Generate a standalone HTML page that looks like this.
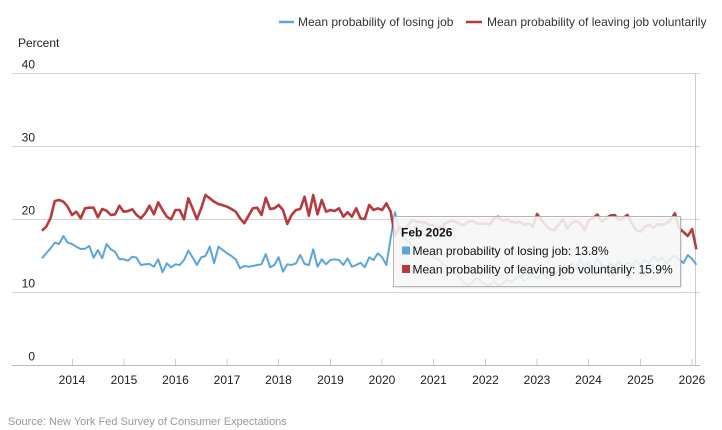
<!DOCTYPE html>
<html><head><meta charset="utf-8"><style>
html,body{margin:0;padding:0;background:#fff;width:722px;height:430px;overflow:hidden}
svg{display:block;font-family:"Liberation Sans",Arial,sans-serif}
</style></head><body>
<svg width="722" height="430" viewBox="0 0 722 430" xmlns="http://www.w3.org/2000/svg">
<rect width="722" height="430" fill="#fff"/>
<!-- legend -->
<line x1="279" y1="22" x2="294" y2="22" stroke="#5aa6dc" stroke-width="2.5"/>
<text x="298" y="26" font-size="12" fill="#333">Mean probability of losing job</text>
<line x1="466" y1="22" x2="482" y2="22" stroke="#b73a3f" stroke-width="2.5"/>
<text x="487" y="26" font-size="12" fill="#333">Mean probability of leaving job voluntarily</text>
<text x="18" y="47" font-size="12" fill="#222">Percent</text>
<!-- grid -->
<g stroke="#d3d3d3" stroke-width="1">
<line x1="12" y1="73.5" x2="700" y2="73.5"/>
<line x1="12" y1="146.5" x2="700" y2="146.5"/>
<line x1="12" y1="219.5" x2="700" y2="219.5"/>
<line x1="12" y1="292.5" x2="700" y2="292.5"/>
</g>
<line x1="12" y1="365.5" x2="700" y2="365.5" stroke="#bbb" stroke-width="1"/>
<g font-size="12" fill="#222" text-anchor="end">
<text x="35" y="68.5">40</text>
<text x="35" y="141.5">30</text>
<text x="35" y="214.5">20</text>
<text x="35" y="287.5">10</text>
<text x="35" y="360.5">0</text>
</g>
<g stroke="#ccc" stroke-width="1">
<line x1="72.5" y1="359" x2="72.5" y2="365"/>
<line x1="124" y1="359" x2="124" y2="365"/>
<line x1="175.5" y1="359" x2="175.5" y2="365"/>
<line x1="227" y1="359" x2="227" y2="365"/>
<line x1="278.5" y1="359" x2="278.5" y2="365"/>
<line x1="330.5" y1="359" x2="330.5" y2="365"/>
<line x1="382" y1="359" x2="382" y2="365"/>
<line x1="433.5" y1="359" x2="433.5" y2="365"/>
<line x1="485.5" y1="359" x2="485.5" y2="365"/>
<line x1="537" y1="359" x2="537" y2="365"/>
<line x1="588.5" y1="359" x2="588.5" y2="365"/>
<line x1="640.5" y1="359" x2="640.5" y2="365"/>
<line x1="692" y1="359" x2="692" y2="365"/>
</g>
<g font-size="12" fill="#222" text-anchor="middle">
<text x="72" y="384">2014</text>
<text x="124" y="384">2015</text>
<text x="175.5" y="384">2016</text>
<text x="227" y="384">2017</text>
<text x="278.5" y="384">2018</text>
<text x="330.5" y="384">2019</text>
<text x="382" y="384">2020</text>
<text x="433.5" y="384">2021</text>
<text x="485.5" y="384">2022</text>
<text x="537" y="384">2023</text>
<text x="588.5" y="384">2024</text>
<text x="640.5" y="384">2025</text>
<text x="692" y="384">2026</text>
</g>
<!-- crosshair -->
<line x1="695.5" y1="73" x2="695.5" y2="365" stroke="#ccc" stroke-width="1"/>
<!-- blue series -->
<polyline fill="none" stroke="#5aa6dc" stroke-width="2" stroke-linejoin="round" points="41.9,258.3 46.2,253.3 50.5,248.3 54.8,242.7 59.1,244 63.4,236 67.7,242.7 72,244 76.3,246.7 80.7,249 85,248.7 89.3,246 93.6,257.7 97.9,250 102.2,258.3 106.5,244 110.8,249.3 115.1,251.7 119.4,259.3 123.7,259.3 128,260.7 132.3,256.7 136.6,257.7 140.9,265 145.2,264.3 149.5,264 153.9,266.7 158.2,259.3 162.5,272.3 166.8,263.3 171.1,267.3 175.4,264.3 179.7,265 184,260 188.3,250.7 192.6,257.3 196.9,265 201.2,257.3 205.5,256 209.8,246.7 214.1,263.3 218.4,246.7 222.8,250 227.1,253.3 231.4,256 235.7,259.3 240,268.3 244.3,266 248.6,266.7 252.9,266 257.2,265 261.5,264.3 265.8,254 270.1,267.3 274.4,265 278.7,257.3 283,271.7 287.3,264.3 291.6,265 296,263.3 300.3,255 304.6,264 308.9,265 313.2,249.3 317.5,266.7 321.8,259.3 326.1,264.3 330.4,260 334.7,259.3 339,260 343.3,265 347.6,258.3 351.9,266.7 356.2,265 360.5,262.7 364.8,267.3 369.2,257.3 373.5,260 377.8,253.3 382.1,257.3 386.4,265 390.7,238 395,212.2 399.3,230.4 403.6,237.8 407.9,241.4 412.2,245 416.5,248.7 420.8,246.5 425.1,252.4 429.4,254.5 433.7,257.5 438.1,259.7 442.4,263.3 446.7,267 451,269.1 455.3,273.5 459.6,277.9 463.9,283 468.2,285.2 472.5,282.3 476.8,277.9 481.1,281.6 485.4,284.5 489.7,285.2 494,280.8 498.3,285.9 502.6,283.7 506.9,279.4 511.3,282.3 515.6,278.6 519.9,275.7 524.2,280.8 528.5,277.9 532.8,274.3 537.1,278.6 541.4,273.5 545.7,276.4 550,270.6 554.3,275 558.6,272.1 562.9,267 567.2,270.6 571.5,263.3 575.8,268.4 580.2,259.7 584.5,266.2 588.8,261.8 593.1,267.7 597.4,258.9 601.7,264.8 606,269.1 610.3,263.3 614.6,267 618.9,261.1 623.2,266.2 627.5,262.6 631.8,267 636.1,260.4 640.4,264.8 644.7,259.7 649,263.3 653.4,256 657.7,261.1 662,257.5 666.3,263.3 670.6,258.9 674.9,255.3 679.2,259.7 683.5,263 687.8,255 692.1,259 696.4,264.8"/>
<!-- red series -->
<polyline fill="none" stroke="#b73a3f" stroke-width="2.6" stroke-linejoin="round" points="41.9,230.7 46.2,226.7 50.5,218.3 54.8,201 59.1,200 63.4,201.7 67.7,206.7 72,215 76.3,211.7 80.7,218.3 85,208.3 89.3,207.7 93.6,207.7 97.9,217.3 102.2,209 106.5,210.7 110.8,215 115.1,214.3 119.4,205.7 123.7,211.7 128,211 132.3,209.3 136.6,215 140.9,218.3 145.2,213.3 149.5,205.7 153.9,214.3 158.2,202.3 162.5,210 166.8,216.7 171.1,219.3 175.4,210 179.7,210 184,219.3 188.3,198.3 192.6,208.3 196.9,219.3 201.2,208.3 205.5,195 209.8,198.3 214.1,201.7 218.4,204 222.8,205.3 227.1,206.7 231.4,209 235.7,211.7 240,218.3 244.3,223.3 248.6,215.7 252.9,208.3 257.2,207.7 261.5,215 265.8,197.7 270.1,209 274.4,208.3 278.7,205 283,210 287.3,224 291.6,215 296,210 300.3,209 304.6,196.7 308.9,215.7 313.2,195 317.5,214.3 321.8,200 326.1,211.7 330.4,210 334.7,211 339,208.3 343.3,216.7 347.6,212.3 351.9,216.7 356.2,208.3 360.5,218.3 364.8,219 369.2,205 373.5,210 377.8,208.3 382.1,210 386.4,203.3 390.7,211.7 395,236 399.3,226.7 403.6,229.3 407.9,225.7 412.2,220 416.5,221.7 420.8,222.3 425.1,222.3 429.4,225 433.7,225 438.1,229.3 442.4,225.7 446.7,222.3 451,220.7 455.3,221.7 459.6,224 463.9,225 468.2,221.7 472.5,221 476.8,223.3 481.1,224 485.4,223.3 489.7,225 494,218.3 498.3,216.7 502.6,221 506.9,219 511.3,221.7 515.6,222.7 519.9,221.7 524.2,225 528.5,223.3 532.8,226.7 537.1,214 541.4,220 545.7,225 550,229.3 554.3,230 558.6,225 562.9,219 567.2,228.3 571.5,223.3 575.8,220.7 580.2,223.3 584.5,230 588.8,220 593.1,218.3 597.4,214.5 601.7,221.7 606,218.3 610.3,215.5 614.6,215 618.9,220 623.2,218 627.5,215 631.8,223.3 636.1,230 640.4,231.7 644.7,226.7 649,225 653.4,227.7 657.7,224.3 662,225 666.3,223.3 670.6,220 674.9,213.3 679.2,228.3 683.5,232 687.8,236 692.1,229 696.4,249.4"/>
<!-- tooltip -->
<rect x="395.5" y="218.5" width="287" height="70" fill="#000" opacity="0.06"/>
<rect x="394.5" y="217.5" width="287" height="70" fill="#000" opacity="0.06"/>
<rect x="393.5" y="216.5" width="287" height="70" fill="rgba(250,250,250,0.86)" stroke="#b5b5b5" stroke-width="1"/>
<text x="401" y="236.5" font-size="12" font-weight="bold" fill="#111">Feb 2026</text>
<rect x="402" y="246.5" width="8" height="8" fill="#5aa6dc"/>
<text x="412.5" y="255" font-size="12" fill="#111">Mean probability of losing job: 13.8%</text>
<rect x="402" y="265" width="8" height="8" fill="#b73a3f"/>
<text x="412.5" y="273.5" font-size="12" fill="#111">Mean probability of leaving job voluntarily: 15.9%</text>
<text x="8" y="425" font-size="11" fill="#999">Source: New York Fed Survey of Consumer Expectations</text>
</svg>
</body></html>
